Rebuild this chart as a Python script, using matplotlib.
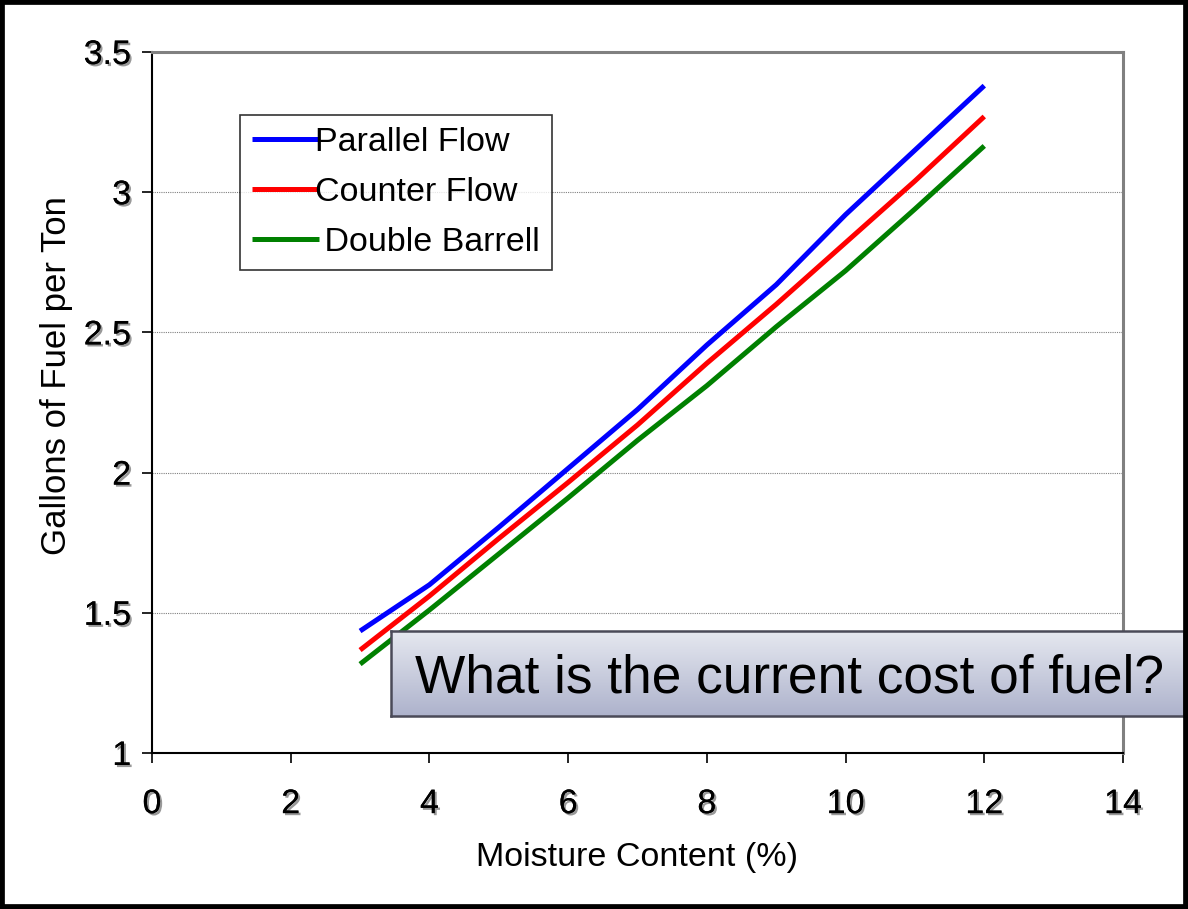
import numpy as np
import matplotlib
matplotlib.use("Agg")
import matplotlib.pyplot as plt
import matplotlib.patheffects as pe
from matplotlib.patches import Rectangle

plt.rcParams['font.family'] = ['Liberation Sans', 'DejaVu Sans']

moisture = [3, 4, 5, 6, 7, 8, 9, 10, 11, 12]
parallel_flow = [1.435, 1.60, 1.805, 2.015, 2.225, 2.455, 2.67, 2.92, 3.15, 3.38]
counter_flow = [1.367, 1.56, 1.765, 1.965, 2.17, 2.39, 2.60, 2.82, 3.04, 3.27]
double_barrell = [1.317, 1.51, 1.71, 1.91, 2.115, 2.31, 2.52, 2.72, 2.94, 3.165]

x_ticks = [0, 2, 4, 6, 8, 10, 12, 14]
y_ticks = [1, 1.5, 2, 2.5, 3, 3.5]
y_tick_labels = ["1", "1.5", "2", "2.5", "3", "3.5"]

W, H = 1188, 909
fig = plt.figure(figsize=(W / 100, H / 100), dpi=100)
ax = fig.add_axes([152 / W, 1 - 753 / H, (1123 - 152) / W, (753 - 52) / H])

ax.plot(moisture, parallel_flow, color="#0000ff", lw=3.6, label="Parallel Flow", solid_capstyle="butt")
ax.plot(moisture, counter_flow, color="#ff0000", lw=3.6, label="Counter Flow", solid_capstyle="butt")
ax.plot(moisture, double_barrell, color="#008000", lw=3.6, label=" Double Barrell", solid_capstyle="butt")

ax.set_xlim(0, 14)
ax.set_ylim(1, 3.5)
ax.set_xticks(x_ticks)
ax.set_yticks(y_ticks)
ax.set_yticklabels(y_tick_labels)

shadow = [pe.withSimplePatchShadow(offset=(1.5, -1.5), shadow_rgbFace="#555555", alpha=0.6), pe.Normal()]
ax.tick_params(axis="x", direction="out", length=7, width=1.2, pad=19, labelsize=24.5)
ax.tick_params(axis="y", direction="out", length=7, width=1.2, pad=8, labelsize=24.5)
for lab in ax.get_xticklabels() + ax.get_yticklabels():
    lab.set_path_effects(shadow)

for y in [1.5, 2, 2.5, 3]:
    ax.axhline(y, color="#808080", lw=0.8, ls=(0, (1, 1)), zorder=0)

ax.spines["left"].set_color("black")
ax.spines["bottom"].set_color("black")
ax.spines["left"].set_linewidth(1.5)
ax.spines["bottom"].set_linewidth(1.5)
ax.spines["top"].set_color("#808080")
ax.spines["right"].set_color("#808080")
ax.spines["top"].set_linewidth(2.2)
ax.spines["right"].set_linewidth(2.2)

ax.set_xlabel("Moisture Content (%)", fontsize=24.5, labelpad=16)
fig.text(57 / W, 1 - 376 / H, "Gallons of Fuel per Ton", rotation=90, fontsize=25,
         ha="center", va="center")

leg = ax.legend(loc="upper left", bbox_to_anchor=(240 / W, 1 - 115 / H), bbox_transform=fig.transFigure,
                fontsize=24.5, frameon=True, fancybox=False, borderaxespad=0, borderpad=0.36,
                labelspacing=0.55, handlelength=1.95, handletextpad=-0.1)
leg.get_frame().set_edgecolor("black")
leg.get_frame().set_linewidth(1.2)

# callout box with gradient
bx0, by0, bx1, by1 = 391, 631, 1184, 716
bax = fig.add_axes([bx0 / W, 1 - by1 / H, (bx1 - bx0) / W, (by1 - by0) / H])
grad = np.linspace(0, 1, 100).reshape(-1, 1)
top = np.array([0.90, 0.91, 0.94])
bot = np.array([0.68, 0.70, 0.80])
img = top + (bot - top) * grad[:, :, None]
bax.imshow(img, aspect="auto", extent=[0, 1, 0, 1], origin="upper")
bax.set_xticks([])
bax.set_yticks([])
for s in bax.spines.values():
    s.set_color("#4a4a58")
    s.set_linewidth(1.8)
bax.text(0.502, 0.44, "What is the current cost of fuel?", fontsize=38.3, ha="center", va="center",
         transform=bax.transAxes)

fig.patches.append(Rectangle((0, 0), 1, 1, transform=fig.transFigure, fill=False,
                             edgecolor="black", lw=7, zorder=10))

fig.savefig("out.png", dpi=100)
